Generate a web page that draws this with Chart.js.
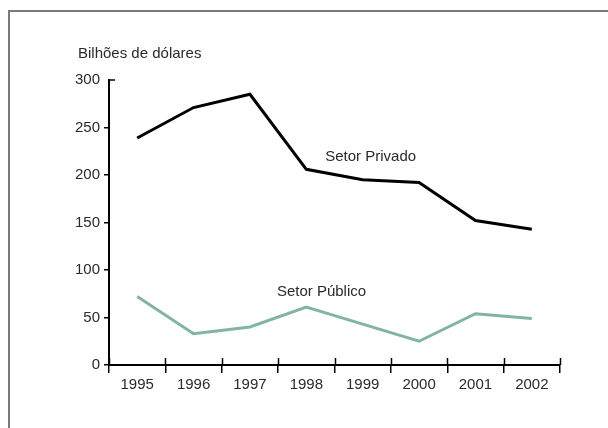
<!DOCTYPE html>
<html><head><meta charset="utf-8">
<script src="https://cdn.jsdelivr.net/npm/chart.js@4/dist/chart.umd.min.js"></script>
<style>
html,body{margin:0;padding:0;background:#fff;}
#wrap{position:relative;width:608px;height:428px;overflow:hidden;}
#frame{position:absolute;left:8px;top:10px;width:700px;height:500px;border-top:2px solid #7a7a7a;border-left:2px solid #7a7a7a;}
canvas{position:absolute;left:0;top:0;}
</style></head><body>
<div id="wrap"><div id="frame"></div><canvas id="c" width="608" height="428"></canvas></div>
<script>
const years = ['1995','1996','1997','1998','1999','2000','2001','2002'];
const privado = [239, 271, 285, 206, 195, 192, 152, 143];
const publico = [72, 33, 40, 61, 43, 25, 54, 49];
const yTicks = [0, 50, 100, 150, 200, 250, 300];
const unitLabel = 'Bilhões de dólares';
const seriesNames = ['Setor Privado', 'Setor Público'];

const FONT = '"Liberation Sans", Arial, sans-serif';
const TXT = '#2a2a2a';

const decor = {
  id: 'decor',
  afterDraw(chart) {
    const ctx = chart.ctx;
    const x = chart.scales.x, y = chart.scales.y;
    const step = x.getPixelForValue(1) - x.getPixelForValue(0);
    ctx.save();
    ctx.strokeStyle = '#000';
    ctx.lineWidth = 1.5;
    // inner half of x ticks
    for (let i = 0; i <= years.length; i++) {
      const px = Math.round(x.getPixelForValue(i) - step / 2) + 0.5;
      ctx.beginPath();
      ctx.moveTo(px, y.bottom - 7);
      ctx.lineTo(px, y.bottom);
      ctx.stroke();
    }
    // top tick pointing right
    const ty = y.getPixelForValue(yTicks[yTicks.length - 1]);
    ctx.beginPath();
    ctx.moveTo(chart.chartArea.left, ty);
    ctx.lineTo(chart.chartArea.left + 6, ty);
    ctx.stroke();
    // texts
    ctx.fillStyle = TXT;
    ctx.font = '15px ' + FONT;
    ctx.textBaseline = 'middle';
    ctx.textAlign = 'left';
    ctx.fillText(unitLabel, chart.chartArea.left - 31, 54);
    ctx.textAlign = 'center';
    ctx.fillText(seriesNames[0], x.getPixelForValue(4) + 8, y.getPixelForValue(219));
    ctx.fillText(seriesNames[1], (x.getPixelForValue(3) + x.getPixelForValue(4)) / 2 - 13, y.getPixelForValue(77));
    ctx.restore();
  }
};

new Chart(document.getElementById('c'), {
  type: 'line',
  data: {
    labels: years,
    datasets: [
      { label: seriesNames[0], data: privado, borderColor: '#000', borderWidth: 3, pointRadius: 0, tension: 0, fill: false },
      { label: seriesNames[1], data: publico, borderColor: '#80b5a4', borderWidth: 3, pointRadius: 0, tension: 0, fill: false }
    ]
  },
  options: {
    responsive: false,
    animation: false,
    devicePixelRatio: 1,
    layout: { padding: { top: 80, right: 48, left: 0, bottom: 0 } },
    plugins: { legend: { display: false }, tooltip: { enabled: false } },
    scales: {
      x: {
        type: 'category',
        offset: true,
        grid: { offset: true, drawOnChartArea: false, tickLength: 8, color: '#000', lineWidth: 1.5 },
        border: { color: '#000', width: 2 },
        ticks: { font: { family: FONT, size: 15 }, color: TXT, padding: 3, maxRotation: 0, autoSkip: false },
        afterFit: s => { s.height = 63; }
      },
      y: {
        min: 0, max: 300,
        afterBuildTicks: s => { s.ticks = yTicks.map(v => ({ value: v })); },
        grid: {
          drawOnChartArea: false, tickLength: 5, lineWidth: 1.5,
          tickColor: c => (c.tick && c.tick.value === 300) ? 'rgba(0,0,0,0)' : '#000'
        },
        border: { color: '#000', width: 2 },
        ticks: { font: { family: FONT, size: 15 }, color: TXT, padding: 4 },
        afterFit: s => { s.width = 109; }
      }
    }
  },
  plugins: [decor]
});
</script>
</body></html>
